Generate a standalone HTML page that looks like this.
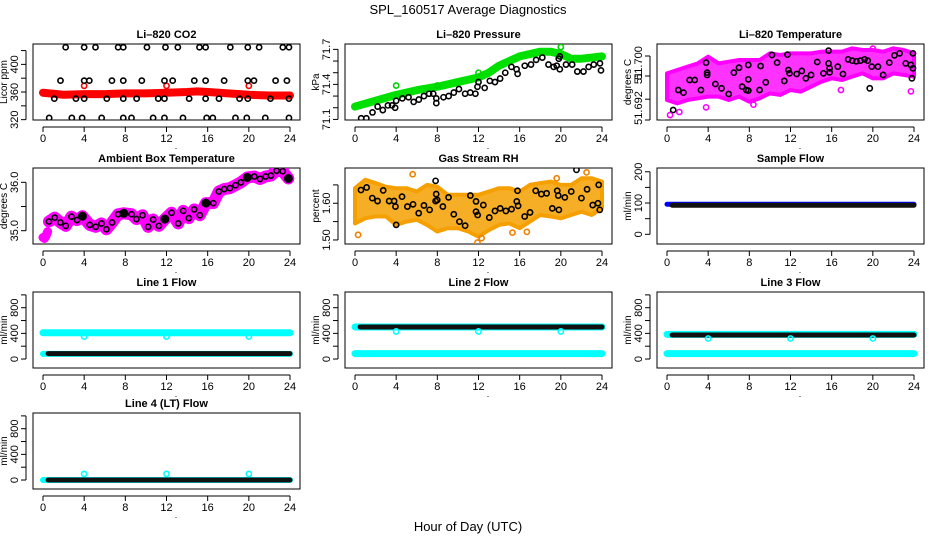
<!DOCTYPE html>
<html><head><meta charset="utf-8">
<style>
html,body{margin:0;padding:0;background:#fff;}
svg{display:block;font-family:"Liberation Sans",Arial,sans-serif;}
</style></head>
<body>
<svg id="chart" width="936" height="540" viewBox="0 0 936 540" xmlns="http://www.w3.org/2000/svg">
<rect width="936" height="540" fill="#fff"/>
<text x="468" y="14" text-anchor="middle" font-size="13">SPL_160517  Average Diagnostics</text>
<text x="468" y="531" text-anchor="middle" font-size="13">Hour of Day (UTC)</text>
</svg>
<script>
// ---------- data ----------
const hourTicks = [0,4,8,12,16,20,24];
const hours25 = [0,1,2,3,4,5,6,7,8,9,10,11,12,13,14,15,16,17,18,19,20,21,22,23,24];

// CO2
const co2TopH = [2.2,4.0,5.1,7.3,7.8,10.1,11.9,13.1,15.2,15.8,18.2,19.9,21.0,23.3,23.9];
const co2TopV = 424.8;
const co2HiH = [1.7,4.0,4.5,6.7,7.8,9.6,11.8,12.6,14.7,15.8,17.6,19.9,20.5,22.6,23.7];
const co2HiV = 376.5;
const co2MidH = [1.1,3.2,4.0,6.2,7.8,9.1,11.2,11.8,14.2,15.8,17.1,19.1,19.9,22.1,23.9];
const co2MidV = 350.4;
const co2LowH = [0.6,2.8,3.8,5.7,7.8,8.6,10.7,11.8,13.6,15.9,16.5,18.7,19.8,21.6,23.9];
const co2LowV = 322.5;
const co2RedH = [0,2,4,6,8,10,12,14,15,16,18,20,22,24];
const co2RedV = [359,356,357,357,358,358,359,360,361,360,358,356,355,355];
const co2OutH = [4,12,20];
const co2OutV = [369,369,369];

// Pressure
const presGreenH = [0,2,4,6,8,10,12,13,14,15,16,17,18,19,20,21,22,23,24];
const presGreenV = [71.21,71.26,71.31,71.35,71.38,71.42,71.46,71.50,71.56,71.60,71.64,71.66,71.68,71.68,71.66,71.62,71.62,71.63,71.64];
const presGreenOutH = [4,8,12,20];
const presGreenOutV = [71.39,71.39,71.5,71.72];
const presBlackH = [0.6,1.1,1.7,2.2,2.7,3.2,3.6,3.9,4.0,4.6,5.2,5.7,6.2,6.7,7.2,7.6,7.9,7.9,8.6,9.1,9.6,10.1,10.7,11.2,11.7,11.9,12.0,12.6,13.1,13.6,14.1,14.6,15.2,15.7,15.8,16.5,17.1,17.6,18.2,18.8,19.3,19.6,19.8,19.9,19.9,20.5,21.1,21.6,22.2,22.7,23.2,23.8,23.9];
const presBlackV = [71.11,71.11,71.16,71.21,71.18,71.22,71.22,71.2,71.26,71.28,71.29,71.25,71.27,71.3,71.32,71.32,71.28,71.24,71.29,71.3,71.33,71.36,71.32,71.33,71.32,71.38,71.42,71.37,71.43,71.42,71.45,71.5,71.55,71.53,71.49,71.56,71.57,71.61,71.63,71.57,71.55,71.56,71.62,71.64,71.53,71.57,71.57,71.51,71.51,71.55,71.57,71.58,71.52];

// Li-820 Temperature
const tempUpper = [51.69783,51.69825,51.69867,51.69908,51.69992,51.69908,51.69929,51.6995,51.6995,51.6995,51.70033,51.70013,51.70033,51.70033,51.70033,51.70054,51.70054,51.70054,51.70096,51.70075,51.70075,51.70054,51.70096,51.70075,51.70033];
const tempLower = [51.6945,51.69408,51.6945,51.69471,51.69492,51.69492,51.6945,51.69492,51.69429,51.69471,51.69533,51.69513,51.69575,51.69554,51.69617,51.69679,51.69721,51.697,51.69742,51.69783,51.69721,51.69721,51.69783,51.69763,51.69742];
const tempMagOutH = [0.3,1.2,3.8,8.4,16.9,20.0,23.7];
const tempMagOutV = [51.69262,51.69300,51.69358,51.69392,51.69575,51.70092,51.69558];
const tempBlackH = [0.6,1.1,1.6,2.2,2.7,3.3,3.8,3.9,3.9,4.7,5.3,6.0,6.5,7.0,7.3,7.7,7.9,7.9,7.9,9.0,9.1,9.6,10.2,10.7,11.4,11.7,11.8,11.9,12.6,13.1,13.5,14.0,14.6,15.2,15.7,15.7,15.8,15.8,16.6,17.1,17.6,18.0,18.4,18.8,19.2,19.5,19.7,19.9,20.5,21.0,21.6,22.1,22.6,23.2,23.7,23.8,23.9,23.9];
const tempBlackV = [51.69325,51.69575,51.69542,51.697,51.697,51.69575,51.69917,51.69792,51.69763,51.6965,51.69596,51.69525,51.69792,51.69854,51.69617,51.69575,51.69567,51.69888,51.69708,51.69575,51.69875,51.69671,51.70013,51.69917,51.69688,51.70017,51.69825,51.69783,51.69775,51.69813,51.69721,51.69763,51.69925,51.69783,51.70067,51.69908,51.69846,51.69796,51.69867,51.69775,51.69958,51.69942,51.69933,51.69942,51.69958,51.69942,51.69596,51.69867,51.69867,51.69763,51.69917,51.70008,51.70033,51.69908,51.69888,51.69721,51.70033,51.69846];

// Ambient box temperature
const ambH = [0.58,1.14,1.69,2.21,2.76,3.31,3.83,4.54,5.12,5.68,6.16,6.71,7.30,7.85,8.60,9.08,9.67,10.22,10.70,11.26,11.84,12.49,13.14,13.62,14.17,14.69,15.24,15.83,16.54,17.09,17.61,18.16,18.71,19.23,19.85,20.53,21.08,21.63,22.15,22.70,23.29,23.84];
const ambV = [35.19,35.27,35.17,35.10,35.29,35.22,35.30,35.12,35.08,35.15,35.03,35.17,35.34,35.36,35.34,35.24,35.32,35.08,35.23,35.10,35.24,35.37,35.15,35.41,35.26,35.44,35.32,35.57,35.57,35.81,35.86,35.88,35.94,36.00,36.10,36.12,36.07,36.12,36.14,36.24,36.23,36.08];
const ambBigH = [3.83,7.85,11.84,15.83,19.85,23.84];
const ambBigV = [35.30,35.36,35.24,35.57,36.10,36.08];
const ambStartH = [0.0,0.15,0.3,0.45];
const ambStartV = [34.86,34.84,34.9,34.98];

// Gas stream RH
const rhUpper = [1.641,1.664,1.655,1.645,1.641,1.641,1.632,1.650,1.645,1.623,1.623,1.623,1.623,1.632,1.641,1.641,1.632,1.650,1.655,1.659,1.650,1.650,1.668,1.668,1.659];
const rhLower = [1.545,1.559,1.564,1.564,1.541,1.550,1.555,1.541,1.523,1.532,1.532,1.523,1.509,1.527,1.541,1.545,1.532,1.550,1.568,1.564,1.559,1.568,1.577,1.568,1.586];
const rhOutH = [0.3,5.6,11.9,12.3,16.7,19.6,22.5,15.3];
const rhOutV = [1.514,1.679,1.493,1.505,1.522,1.668,1.684,1.52];
const rhBlackH = [0.58,1.13,1.68,2.19,2.74,3.32,3.80,3.93,4.00,4.57,5.09,5.64,6.19,6.70,7.25,7.83,7.83,7.89,7.99,8.54,9.09,9.60,10.15,10.70,11.21,11.76,11.76,11.92,12.47,13.05,13.60,14.11,14.66,15.21,15.72,15.79,15.85,16.49,17.01,17.56,18.11,18.62,19.17,19.65,19.75,19.81,20.39,21.01,21.52,22.00,22.55,23.10,23.61,23.68,23.78];
const rhBlackV = [1.636,1.643,1.614,1.606,1.635,1.606,1.606,1.591,1.541,1.618,1.591,1.597,1.573,1.594,1.582,1.661,1.606,1.625,1.609,1.591,1.616,1.570,1.550,1.539,1.621,1.605,1.577,1.568,1.595,1.561,1.579,1.586,1.579,1.584,1.605,1.634,1.593,1.564,1.575,1.634,1.625,1.627,1.586,1.634,1.621,1.582,1.616,1.632,1.691,1.614,1.638,1.595,1.600,1.650,1.582];

// Sample flow
const sampBlueV = 96;
const sampBlackV = 93;

// Line flows
const l1CyanHi = 410, l1CyanLo = 80, l1Black = 85, l1Dip = 350;
const l2CyanHi = 500, l2CyanLo = 85, l2Black = 500, l2Dip = 430;
const l3CyanHi = 385, l3CyanLo = 85, l3Black = 375, l3Dip = 320;
const l4Cyan = 0, l4Black = 0, l4Spike = 95;
const dipHours = [4,12,20];

// ---------- drawing ----------
const NS = 'http://www.w3.org/2000/svg';
const svg = document.getElementById('chart');
function mk(tag, attrs, parent){
  const e = document.createElementNS(NS, tag);
  for (const k in attrs) e.setAttribute(k, attrs[k]);
  (parent||svg).appendChild(e);
  return e;
}
const lefts = [33,345,657];
const tops = [44,168,292,413];
const W = 267, H = 76;

function panel(col,row,name,title,ylab,ymin,ymax,ticks,labels,labelPos){
  const g = mk('g',{});
  
  
  const L = lefts[col], T = tops[row], B = T+H;
  const sx = h => L+10 + h*(247/24);
  const sy = v => B - (v-ymin)/(ymax-ymin)*H;
  const box = mk('rect',{x:L,y:T,width:W,height:H,fill:'none',stroke:'#000','stroke-width':1},g);
  
  
  const t = mk('text',{x:L+W/2,y:T-6,'text-anchor':'middle','font-size':11,'font-weight':'bold'},g);
  t.textContent = title;
  
  
  // x axis
  const xa = mk('g',{},g);
  
  
  mk('line',{x1:sx(0),x2:sx(24),y1:B+7,y2:B+7,stroke:'#000'},xa);
  hourTicks.forEach(h=>{
    mk('line',{x1:sx(h),x2:sx(h),y1:B+7,y2:B+12,stroke:'#000'},xa);
    const tl = mk('text',{x:sx(h),y:B+22,'text-anchor':'middle','font-size':11},xa);
    tl.textContent = h;
  });
  const dot = mk('text',{x:L+143,y:B+29,'text-anchor':'middle','font-size':9},xa);
  dot.textContent='.';
  // y axis
  const ya = mk('g',{},g);
  
  
  mk('line',{x1:L-7,x2:L-7,y1:sy(ticks[0]),y2:sy(ticks[ticks.length-1]),stroke:'#000'},ya);
  ticks.forEach(v=>mk('line',{x1:L-12,x2:L-7,y1:sy(v),y2:sy(v),stroke:'#000'},ya));
  labels.forEach((lb,i)=>{
    const y = labelPos ? labelPos[i] : sy(Number(lb));
    const tl = mk('text',{x:0,y:0,'text-anchor':'middle','font-size':11,transform:`translate(${L-15},${y}) rotate(-90)`},ya);
    tl.textContent = lb;
  });
  const yt = mk('text',{x:0,y:0,'text-anchor':'middle','font-size':10,transform:`translate(${L-26},${T+H/2}) rotate(-90)`},g);
  yt.textContent = ylab;
  
  
  const clip = 'clip'+col+row;
  const cp = mk('clipPath',{id:clip},g);
  mk('rect',{x:L,y:T,width:W,height:H},cp);
  const pg = mk('g',{'clip-path':`url(#${clip})`},g);
  
  
  return {sx,sy,g:pg};
}
function circles(p,hs,vs,color,name,r,sw,fill){
  hs.forEach((h,i)=>{
    const v = Array.isArray(vs)?vs[i]:vs;
    const c = mk('circle',{cx:p.sx(h),cy:p.sy(v),r:r||2.6,fill:fill||'none',stroke:color,'stroke-width':sw||1.6},p.g);
    
    
  });
}
function band(p,hs,vs,color,w,name){
  const pts = hs.map((h,i)=>p.sx(h)+','+p.sy(Array.isArray(vs)?vs[i]:vs)).join(' ');
  const l = mk('polyline',{points:pts,fill:'none',stroke:color,'stroke-width':w,'stroke-linejoin':'round','stroke-linecap':'round'},p.g);
  
  
}
function area(p,hs,up,lo,color,name,op){
  const pts = hs.map((h,i)=>p.sx(h)+','+p.sy(up[i])).concat(hs.slice().reverse().map((h,i)=>p.sx(h)+','+p.sy(lo[hs.length-1-i]))).join(' ');
  const a = mk('polygon',{points:pts,fill:color,'fill-opacity':op||1,stroke:color,'stroke-width':4,'stroke-linejoin':'round'},p.g);
  
  
}

// CO2
let p = panel(0,0,'co2','Li\u2013820 CO2','Licor ppm',319.5,429.5,[320,340,360,380,400,420],['320','360','400']);
band(p,co2RedH,co2RedV,'#f00',8,'co2-red-series');
circles(p,co2OutH,co2OutV,'#f00','co2-red-outlier');
circles(p,co2TopH,co2TopV,'#000','co2-black-point');
circles(p,co2HiH,co2HiV,'#000','co2-black-point');
circles(p,co2MidH,co2MidV,'#000','co2-black-point');
circles(p,co2LowH,co2LowV,'#000','co2-black-point');

// Pressure
p = panel(1,0,'pressure','Li\u2013820 Pressure','kPa',71.095,71.746,[71.1,71.2,71.3,71.4,71.5,71.6,71.7],['71.1','71.4','71.7']);
band(p,presGreenH,presGreenV,'#00e000',8,'pressure-green-series');
circles(p,presGreenOutH,presGreenOutV,'#00d000','pressure-green-outlier');
circles(p,presBlackH,presBlackV,'#000','pressure-black-point');

// Temperature
p = panel(2,0,'li820-temp','Li\u2013820 Temperature','degrees C',51.692,51.7015,[51.692,51.6946,51.6975,51.7],['51.692','51','51.700'],[108,78,63]);
area(p,hours25,tempUpper,tempLower,'#f0f','temp-magenta-series',0.8);
circles(p,tempMagOutH,tempMagOutV,'#f0f','temp-magenta-outlier');
circles(p,tempBlackH,tempBlackV,'#000','temp-black-point');

// Ambient
p = panel(0,1,'ambient','Ambient Box Temperature','degrees C',34.725,36.296,[35.0,35.5,36.0],['35.0','36.0']);
band(p,ambStartH,ambStartV,'#f0f',9,'ambient-magenta-start');
band(p,ambH,ambV,'#f0f',12,'ambient-magenta-series');
circles(p,ambH,ambV,'#000','ambient-black-point');
circles(p,ambBigH,ambBigV,'#000','ambient-black-filled',4,1,'#000');

// RH
p = panel(1,1,'rh','Gas Stream RH','percent',1.489,1.696,[1.50,1.55,1.60,1.65],['1.50','1.60']);
area(p,hours25,rhUpper,rhLower,'#f5a000','rh-orange-series',0.85);
circles(p,rhOutH,rhOutV,'#f08000','rh-orange-outlier');
circles(p,rhBlackH,rhBlackV,'#000','rh-black-point');

// Sample flow
p = panel(2,1,'sample-flow','Sample Flow','ml/min',-31,212,[0,50,100,150,200],['0','100','200']);
band(p,[0,24],[sampBlueV,sampBlueV],'#00f',5,'sample-flow-blue-series');
band(p,[0.5,24],[sampBlackV,sampBlackV],'#111',5,'sample-flow-black-series');

const fticks=[0,200,400,600,800,1000], flabs=['0','400','800'];
// Line 1
p = panel(0,2,'line1','Line 1 Flow','ml/min',-140,1045,fticks,flabs);
band(p,[0,24],[l1CyanHi,l1CyanHi],'#0ff',7,'line1-cyan-high');
band(p,[0,24],[l1CyanLo,l1CyanLo],'#0ff',6,'line1-cyan-low');
band(p,[0.5,24],[l1Black,l1Black],'#111',5,'line1-black-series');
circles(p,dipHours,l1Dip,'#0ff','line1-cyan-dip');
// Line 2
p = panel(1,2,'line2','Line 2 Flow','ml/min',-140,1045,fticks,flabs);
band(p,[0,24],[l2CyanHi,l2CyanHi],'#0ff',7,'line2-cyan-high');
band(p,[0,24],[l2CyanLo,l2CyanLo],'#0ff',7,'line2-cyan-low');
band(p,[0.5,24],[l2Black,l2Black],'#111',5,'line2-black-series');
circles(p,dipHours,l2Dip,'#0ff','line2-cyan-dip');
// Line 3
p = panel(2,2,'line3','Line 3 Flow','ml/min',-140,1045,fticks,flabs);
band(p,[0,24],[l3CyanHi,l3CyanHi],'#0ff',7,'line3-cyan-high');
band(p,[0,24],[l3CyanLo,l3CyanLo],'#0ff',7,'line3-cyan-low');
band(p,[0.5,24],[l3Black,l3Black],'#111',5,'line3-black-series');
circles(p,dipHours,l3Dip,'#0ff','line3-cyan-dip');
// Line 4
p = panel(0,3,'line4','Line 4 (LT) Flow','ml/min',-140,1045,fticks,flabs);
band(p,[0,24],[l4Cyan,l4Cyan],'#0ff',6,'line4-cyan-series');
band(p,[0.5,24],[l4Black,l4Black],'#111',5,'line4-black-series');
circles(p,dipHours,l4Spike,'#0ff','line4-cyan-spike');
</script>
</body></html>
